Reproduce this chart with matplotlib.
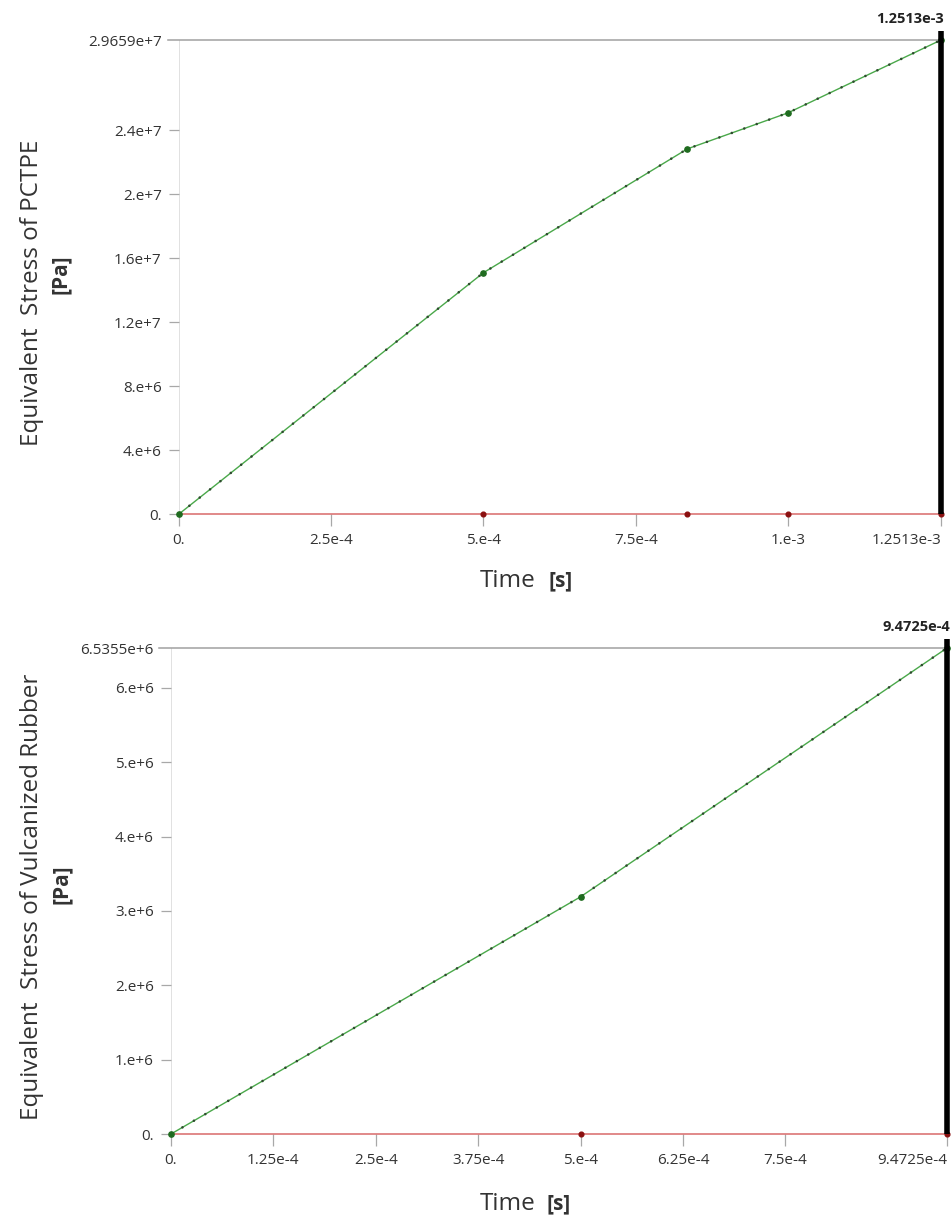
import matplotlib
matplotlib.use("Agg")
import matplotlib.pyplot as plt

plt.rcParams['font.family'] = ['Open Sans', 'DejaVu Sans']

# ---------------- data ----------------
# Panel 1: PCTPE
t1 = [0.0, 5.0e-4, 8.35e-4, 1.0e-3, 1.2513e-3]
s1 = [0.0, 1.51e7, 2.285e7, 2.51e7, 2.9659e7]
x1_ticks = [0.0, 2.5e-4, 5.0e-4, 7.5e-4, 1.0e-3, 1.2513e-3]
x1_labels = ["0.", "2.5e-4", "5.e-4", "7.5e-4", "1.e-3", "1.2513e-3"]
y1_ticks = [0.0, 4e6, 8e6, 1.2e7, 1.6e7, 2e7, 2.4e7]
y1_labels = ["0.", "4.e+6", "8.e+6", "1.2e+7", "1.6e+7", "2.e+7", "2.4e+7"]
y1_max = 2.9659e7
y1_max_label = "2.9659e+7"
t1_end_label = "1.2513e-3"
ylabel1 = "Equivalent  Stress of PCTPE"

# Panel 2: Vulcanized Rubber
t2 = [0.0, 5.0e-4, 9.4725e-4]
s2 = [0.0, 3.19e6, 6.5355e6]
x2_ticks = [0.0, 1.25e-4, 2.5e-4, 3.75e-4, 5.0e-4, 6.25e-4, 7.5e-4, 9.4725e-4]
x2_labels = ["0.", "1.25e-4", "2.5e-4", "3.75e-4", "5.e-4", "6.25e-4", "7.5e-4", "9.4725e-4"]
y2_ticks = [0.0, 1e6, 2e6, 3e6, 4e6, 5e6, 6e6]
y2_labels = ["0.", "1.e+6", "2.e+6", "3.e+6", "4.e+6", "5.e+6", "6.e+6"]
y2_max = 6.5355e6
y2_max_label = "6.5355e+6"
t2_end_label = "9.4725e-4"
ylabel2 = "Equivalent  Stress of Vulcanized Rubber"

xlabel = "Time"
xunit = "[s]"
yunit = "[Pa]"

W, H = 952, 1218
fig = plt.figure(figsize=(W / 100, H / 100), dpi=100)
fig.patch.set_facecolor("white")

GREEN = "#4aa84a"
DOT = "#2f4a2f"
RED = "#d96a6a"
REDDOT = "#8b1010"
AXGRAY = "#dcdcdc"
TICKGRAY = "#a8a8a8"
TXT = "#333333"


def px_rect(left, right, top, bottom):
    return [left / W, 1 - bottom / H, (right - left) / W, (bottom - top) / H]


def panel(rect, t, s, xt, xl, yt, yl, ymax, ymax_lab, end_lab):
    ax = fig.add_axes(rect)
    tmax = t[-1]
    ax.set_xlim(0, tmax)
    ax.set_ylim(0, ymax)
    for sp in ax.spines.values():
        sp.set_visible(False)
    # y axis line
    ax.axvline(0, color=AXGRAY, lw=1.2, zorder=1)
    # top gray line (max value)
    ax.plot([-0.015 * tmax, tmax], [ymax, ymax], color="#a0a0a0", lw=1.1,
            clip_on=False, zorder=2)
    # red baseline + red points
    ax.plot(t, [0] * len(t), color=RED, lw=1.1, zorder=3, clip_on=False)
    ax.plot(t[1:], [0] * (len(t) - 1), ls="none", marker="o", ms=3.4,
            color=REDDOT, zorder=4, clip_on=False)
    # green curve
    ax.plot(t, s, color=GREEN, lw=1.0, zorder=5, clip_on=False)
    # dotted overlay (substep dots look)
    ax.plot(t, s, color=DOT, lw=1.9, ls=(0, (0.01, 5.0)),
            dash_capstyle="round", zorder=5.5, clip_on=False)
    ax.plot(t, s, ls="none", marker="o", ms=3.8, color="#1f6b1f", zorder=6,
            clip_on=False)
    # black vertical cursor line
    ax.plot([tmax, tmax], [0, ymax * 1.018], color="black", lw=4.0,
            zorder=7, clip_on=False, solid_capstyle="butt")
    ax.annotate(end_lab, xy=(tmax, ymax), xycoords="data",
                xytext=(3, 21), textcoords="offset pixels",
                ha="right", va="center", fontsize=10.5, fontweight="bold",
                color="#222222", annotation_clip=False)
    # ticks
    ax.set_xticks(xt)
    ax.set_xticklabels(xl)
    ax.set_yticks(yt + [ymax])
    ax.set_yticklabels(yl + [ymax_lab])
    ax.get_xticklabels()[-1].set_ha("right")
    ax.tick_params(axis="x", direction="out", length=8.5, width=0.9,
                   color=TICKGRAY, labelsize=11, labelcolor=TXT, pad=5.5)
    ax.tick_params(axis="y", direction="out", length=7.5, width=0.9,
                   color=TICKGRAY, labelsize=11, labelcolor=TXT, pad=5)
    # hide the top y tick mark (gray line is drawn there)
    ax.yaxis.get_major_ticks()[-1].tick1line.set_visible(False)
    return ax


ax1 = panel(px_rect(179, 941, 40, 514), t1, s1, x1_ticks, x1_labels,
            y1_ticks, y1_labels, y1_max, y1_max_label, t1_end_label)
ax2 = panel(px_rect(171, 947, 648, 1134), t2, s2, x2_ticks, x2_labels,
            y2_ticks, y2_labels, y2_max, y2_max_label, t2_end_label)

# axis labels
LAB = 17.5
UNIT = 15
fig.text(32 / W, 1 - 293 / H, ylabel1, rotation=90, ha="center", va="center",
         fontsize=LAB, color=TXT)
fig.text(60 / W, 1 - 274 / H, yunit, rotation=90, ha="center", va="center",
         fontsize=UNIT, fontweight="bold", color=TXT)
fig.text(32 / W, 1 - 897 / H, ylabel2, rotation=90, ha="center", va="center",
         fontsize=LAB, color=TXT)
fig.text(61 / W, 1 - 884 / H, yunit, rotation=90, ha="center", va="center",
         fontsize=UNIT, fontweight="bold", color=TXT)

fig.text(480 / W, 1 - 581 / H, xlabel, ha="left", va="center",
         fontsize=LAB, color=TXT)
fig.text(548 / W, 1 - 581 / H, xunit, ha="left", va="center",
         fontsize=UNIT, fontweight="bold", color=TXT)
fig.text(480 / W, 1 - 1204 / H, xlabel, ha="left", va="center",
         fontsize=LAB, color=TXT)
fig.text(547 / W, 1 - 1204 / H, xunit, ha="left", va="center",
         fontsize=UNIT, fontweight="bold", color=TXT)

fig.savefig("out.png", dpi=100, facecolor="white")
